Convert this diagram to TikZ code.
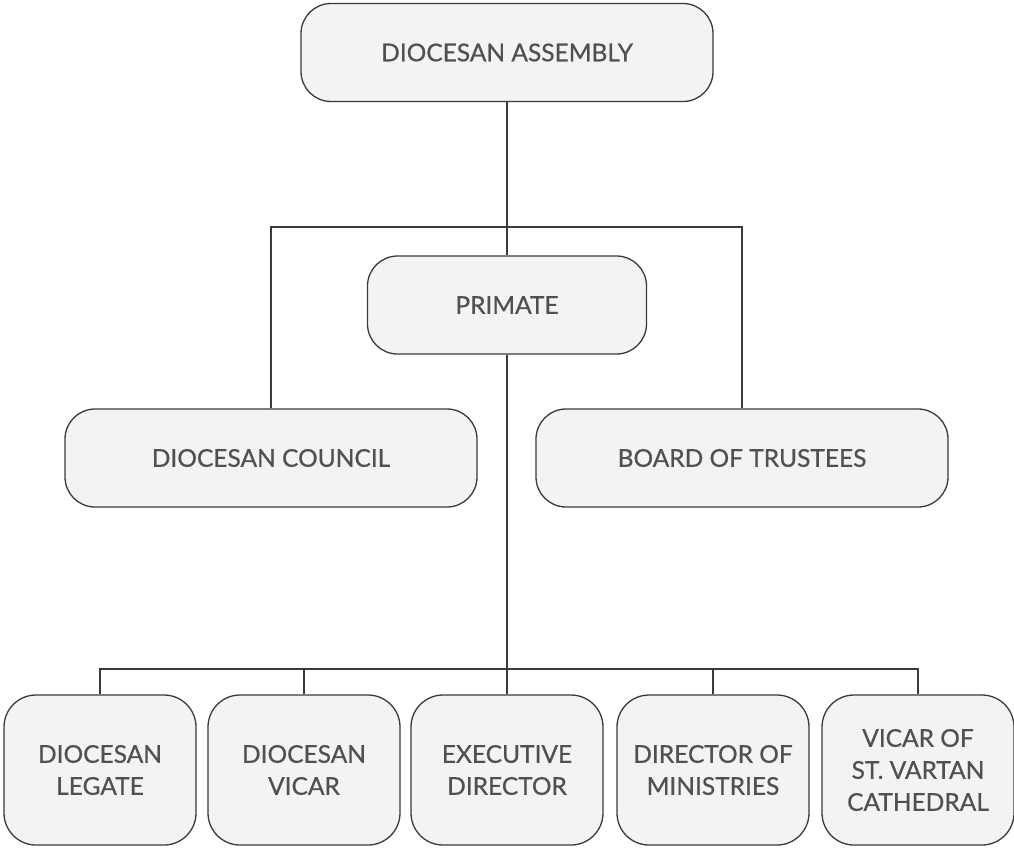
\documentclass[tikz,border=0pt]{standalone}
\usepackage{fontspec}
\setmainfont{Lato}
\newfontfamily\boxfont{Lato}[FakeBold=0.6]
\definecolor{boxfill}{HTML}{F2F3F5}
\definecolor{boxline}{HTML}{3A3A3A}
\definecolor{txt}{HTML}{505050}
\begin{document}
\begin{tikzpicture}[x=1pt,y=-1pt,
  orgbox/.style={draw=boxline, line width=1.3pt, fill=boxfill, rounded corners=30pt,
    text=txt, font=\boxfont\fontsize{24.5}{32}\selectfont, align=center, inner sep=0pt},
  widebox/.style={orgbox, minimum width=412pt, minimum height=98pt},
  smallbox/.style={orgbox, minimum width=192pt, minimum height=150pt, rounded corners=32pt},
  conn/.style={draw=boxline, line width=1.3pt}]
\useasboundingbox (0,0) rectangle (1014,847);
\node[widebox] (assembly) at (507,52.5) {DIOCESAN ASSEMBLY};
\node[orgbox, minimum width=279pt, minimum height=98pt] (primate) at (507,305) {PRIMATE};
\node[widebox] (council) at (271,458) {DIOCESAN COUNCIL};
\node[widebox] (board) at (742,458) {BOARD OF TRUSTEES};
\node[smallbox] (legate) at (100,770) {DIOCESAN\\LEGATE};
\node[smallbox] (vicar) at (304,770) {DIOCESAN\\VICAR};
\node[smallbox] (exec) at (507,770) {EXECUTIVE\\DIRECTOR};
\node[smallbox] (ministries) at (713,770) {DIRECTOR OF\\MINISTRIES};
\node[smallbox] (cathedral) at (918,770) {VICAR OF\\ST. VARTAN\\CATHEDRAL};
\coordinate (bus1) at (507,227);
\coordinate (bus2) at (507,669);
\draw[conn] (assembly.south) -- (primate.north);
\draw[conn] (council.north) |- (bus1) -| (board.north);
\draw[conn] (primate.south) -- (exec.north);
\draw[conn] (legate.north) |- (bus2) -| (cathedral.north);
\draw[conn] (vicar.north) -- (vicar.north |- bus2);
\draw[conn] (ministries.north) -- (ministries.north |- bus2);
\end{tikzpicture}
\end{document}
